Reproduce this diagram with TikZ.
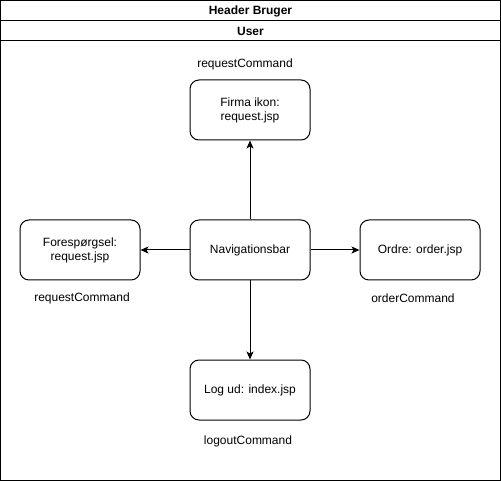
\documentclass[tikz,border=0pt]{standalone}
\usepackage{fontspec}
\setmainfont{Liberation Sans}
\usetikzlibrary{arrows.meta}
\begin{document}
\begin{tikzpicture}[x=1pt,y=-1pt,
  box/.style={draw,line width=1pt,rounded corners=9pt,minimum width=120pt,minimum height=60pt,align=center,inner sep=0pt,font=\fontsize{12}{14}\selectfont},
  lbl/.style={font=\fontsize{12}{14}\selectfont,inner sep=0pt},
  conn/.style={line width=1pt,-{Stealth[length=8pt,width=7pt,inset=2pt]}}]
\useasboundingbox (0,0) rectangle (501,481);
\node[draw,line width=1pt,minimum width=500pt,minimum height=480pt,inner sep=0pt] (frame) at (250.5,240.5) {};
\draw[line width=1pt] (0.5,20.5) coordinate (h1) -- (500.5,20.5) coordinate (h2);
\draw[line width=1pt] (0.5,40.5) coordinate (u1) -- (500.5,40.5) coordinate (u2);
\node[lbl,font=\fontsize{12}{14}\selectfont\bfseries] (hdr) at (250.5,11) {Header Bruger};
\node[lbl,font=\fontsize{12}{14}\selectfont\bfseries] (usr) at (250.5,31) {User};
\node[box] (firma) at (250,110) {Firma ikon:\\request.jsp};
\node[box] (fore) at (80,250) {Forespørgsel:\\request.jsp};
\node[box] (nav) at (250,250) {Navigationsbar};
\node[box] (ordre) at (420,250) {Ordre: order.jsp};
\node[box] (log) at (250,390) {Log ud: index.jsp};
\node[lbl] (l1) at (245,64) {requestCommand};
\node[lbl] (l2) at (82,298) {requestCommand};
\node[lbl] (l3) at (413,298) {orderCommand};
\node[lbl] (l4) at (248,441) {logoutCommand};
\draw[conn] (nav.north) -- (firma.south);
\draw[conn] (nav.west) -- (fore.east);
\draw[conn] (nav.east) -- (ordre.west);
\draw[conn] (nav.south) -- (log.north);
\end{tikzpicture}
\end{document}
